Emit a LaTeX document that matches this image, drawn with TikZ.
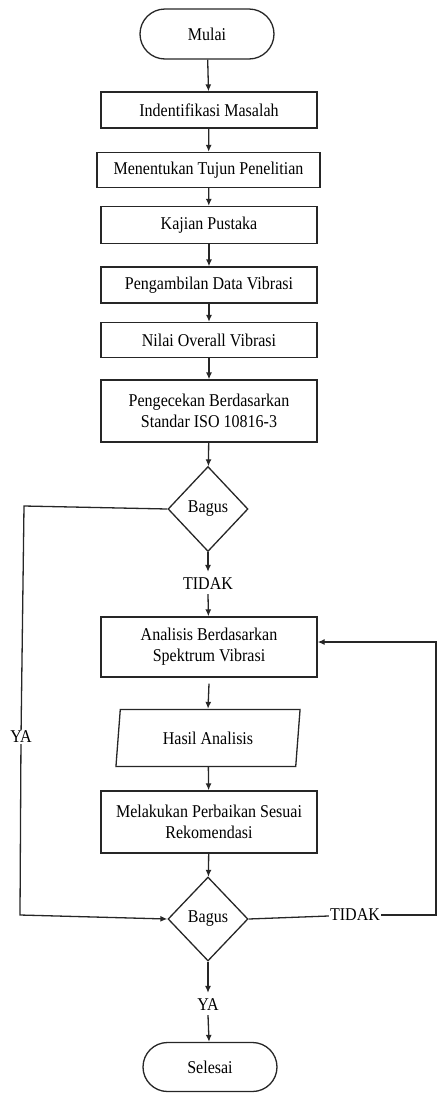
\documentclass[tikz,border=0pt]{standalone}
\usepackage{fontspec}
\setmainfont{Liberation Serif}[FakeStretch=0.89]
\usetikzlibrary{shapes.geometric,shapes.misc,arrows.meta}
\begin{document}
\begin{tikzpicture}[x=1pt,y=-1pt,
  every node/.style={font=\fontsize{18}{21}\selectfont, inner sep=0pt},
  ln/.style={draw=black!85, line width=1.3pt},
  arr/.style={ln, -{Latex[length=7pt,width=6pt]}},
  term/.style={ln, rounded rectangle, minimum width=134pt, minimum height=50pt},
  procbox/.style={ln, rectangle, minimum width=216pt, minimum height=36pt, align=center},
  tallbox/.style={procbox, minimum height=62pt},
  dec/.style={ln, diamond, minimum width=80pt, minimum height=85pt},
  io/.style={ln, trapezium, trapezium left angle=80, trapezium right angle=100, trapezium stretches=true, minimum width=185pt, minimum height=57pt},
  lbl/.style={fill=white, inner sep=1pt}
]
\useasboundingbox (0,0) rectangle (438,1093);
\node[term] (mulai) at (207,34) {Mulai};
\node[procbox] (b1) at (209,110) {Indentifikasi Masalah};
\node[procbox, minimum width=223pt, minimum height=35pt] (b2) at (208.5,170) {Menentukan Tujun Penelitian};
\node[procbox, minimum height=37pt] (b3) at (209,225) {Kajian Pustaka};
\node[procbox] (b4) at (209,285) {Pengambilan Data Vibrasi};
\node[procbox, minimum height=35pt] (b5) at (209,340) {Nilai Overall Vibrasi};
\node[tallbox] (b6) at (209,411) {Pengecekan Berdasarkan\\Standar ISO 10816-3};
\node[dec] (d1) at (208,509) {Bagus};
\node[lbl] (t1) at (208,584) {TIDAK};
\node[tallbox, minimum height=60pt] (b7) at (209,647) {Analisis Berdasarkan\\Spektrum Vibrasi};
\node[io] (h) at (208,738) {Hasil Analisis};
\node[tallbox] (b8) at (209,822) {Melakukan Perbaikan Sesuai\\Rekomendasi};
\node[dec, minimum height=84pt] (d2) at (208,919) {Bagus};
\node[lbl] (y2) at (208,1005) {YA};
\node[term, minimum height=49pt] (selesai) at (210,1067) {Selesai};
\node[lbl] (y1) at (21,737) {YA};
\node[lbl] (t2) at (355,915) {TIDAK};
\coordinate (lt) at (24,506);
\coordinate (lb) at (20,915);
\coordinate (rb) at (436,915);
\coordinate (rt) at (436,642);

\draw[arr] (mulai) -- (b1);
\draw[arr] (b1) -- (b2);
\draw[arr] (b2) -- (b3);
\draw[arr] (b3) -- (b4);
\draw[arr] (b4) -- (b5);
\draw[arr] (b5) -- (b6);
\draw[arr] (b6) -- (d1);
\draw[arr] (d1) -- ([yshift=5pt]t1.north);
\draw[arr] ([yshift=-3pt]t1.south) -- (b7);
\draw[arr] (b7.south) ++(0,6) -- (h.north);
\draw[arr] (h) -- (b8);
\draw[arr] (b8) -- (d2);
\draw[arr] (d2) -- ([yshift=5pt]y2.north);
\draw[arr] ([yshift=-3pt]y2.south) -- (selesai);
\draw[ln] (d1.west) -- (lt) -- (y1);
\draw[arr] (y1) -- (lb) -- (d2.west);
\draw[ln] (d2.east) -- (t2);
\draw[arr] (t2) -- (rb) -- (rt) -- (b7.east |- rt);
\end{tikzpicture}
\end{document}
